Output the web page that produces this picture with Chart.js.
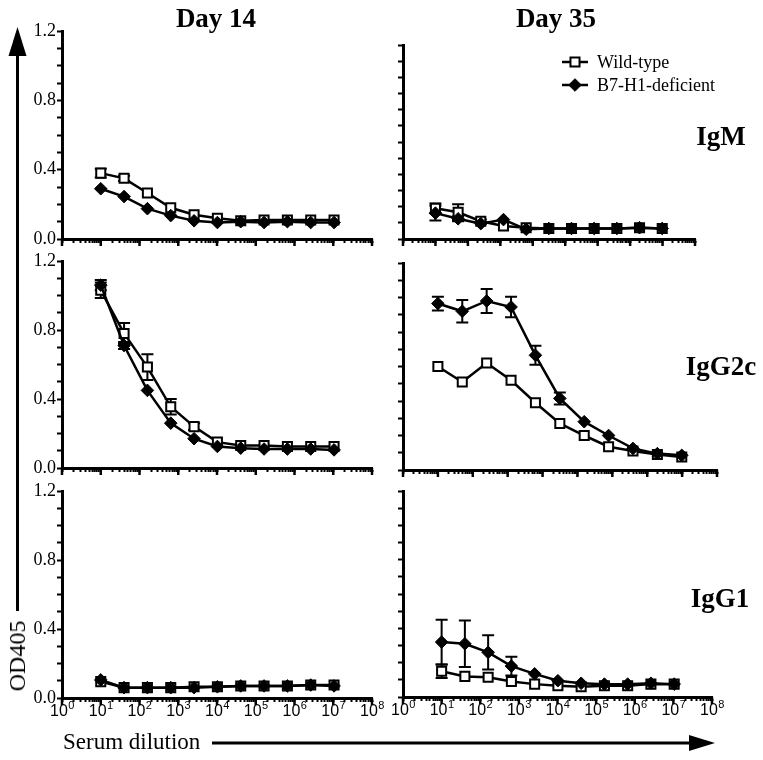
<!DOCTYPE html>
<html>
<head>
<meta charset="utf-8">
<script src="https://cdn.jsdelivr.net/npm/chart.js@4.4.1/dist/chart.umd.min.js"></script>
<style>
  body { margin: 0; background: #fff; }
  #wrap { position: relative; width: 763px; height: 760px; overflow: hidden; font-family: "Liberation Serif", "Times New Roman", serif; color: #000; }
  #wrap canvas { position: absolute; }
  .txt { position: absolute; white-space: nowrap; line-height: 1; }
</style>
</head>
<body>
<div id="wrap">
  <svg width="763" height="760" style="position:absolute;left:0;top:0">
    <line x1="17.5" y1="50" x2="17.5" y2="611" stroke="#000" stroke-width="3"/>
    <polygon points="17.5,27 8.5,56 26.5,56" fill="#000"/>
    <line x1="212" y1="743" x2="692" y2="743" stroke="#000" stroke-width="3"/>
    <polygon points="715,743 689,735 689,751" fill="#000"/>
  </svg>
</div>
<script>
// --- Data ---
const seriesNames = ['Wild-type', 'B7-H1-deficient'];
const dilution4 = [10, 40, 160, 640, 2560, 10240, 40960, 163840, 655360, 2621440, 10485760];
const dilution5 = [10, 50, 250, 1250, 6250, 31250, 156250, 781250, 3906250, 19531250, 97656250];
const decades8 = [1, 10, 100, 1e3, 1e4, 1e5, 1e6, 1e7, 1e8];
const decades9 = [1, 10, 100, 1e3, 1e4, 1e5, 1e6, 1e7, 1e8, 1e9];
const yLabeled = [0, 0.4, 0.8, 1.2];

// IgM
const igmD14WT     = [0.38, 0.35, 0.265, 0.18, 0.14, 0.12, 0.105, 0.11, 0.11, 0.11, 0.11];
const igmD14WTErr  = [0.025, 0.015, 0, 0, 0, 0, 0, 0, 0, 0, 0];
const igmD14KO     = [0.29, 0.245, 0.175, 0.135, 0.105, 0.095, 0.10, 0.095, 0.10, 0.095, 0.095];
const igmD14KOErr  = [0, 0, 0, 0, 0, 0, 0, 0, 0, 0, 0];
const igmD35WT     = [0.19, 0.165, 0.11, 0.08, 0.07, 0.065, 0.065, 0.065, 0.065, 0.07, 0.065];
const igmD35WTErr  = [0.03, 0.05, 0.01, 0, 0, 0, 0, 0, 0, 0, 0];
const igmD35KO     = [0.16, 0.125, 0.095, 0.12, 0.06, 0.065, 0.065, 0.065, 0.065, 0.07, 0.065];
const igmD35KOErr  = [0.045, 0.015, 0, 0, 0, 0, 0, 0, 0, 0, 0];

// IgG2c
const g2cD14WT     = [1.03, 0.78, 0.585, 0.355, 0.24, 0.15, 0.13, 0.13, 0.125, 0.125, 0.125];
const g2cD14WTErr  = [0.045, 0.06, 0.075, 0.045, 0.02, 0, 0, 0, 0, 0, 0];
const g2cD14KO     = [1.06, 0.71, 0.45, 0.26, 0.17, 0.125, 0.115, 0.11, 0.11, 0.11, 0.105];
const g2cD14KOErr  = [0.03, 0.02, 0, 0, 0, 0, 0, 0, 0, 0, 0];
const g2cD35WT     = [0.60, 0.51, 0.62, 0.52, 0.39, 0.27, 0.20, 0.135, 0.11, 0.09, 0.075];
const g2cD35WTErr  = [0, 0, 0, 0, 0, 0, 0, 0, 0, 0, 0];
const g2cD35KO     = [0.965, 0.92, 0.98, 0.945, 0.665, 0.415, 0.28, 0.20, 0.125, 0.095, 0.085];
const g2cD35KOErr  = [0.04, 0.065, 0.07, 0.06, 0.055, 0.035, 0, 0, 0, 0, 0];

// IgG1
const g1D14WT      = [0.095, 0.06, 0.06, 0.06, 0.065, 0.065, 0.07, 0.07, 0.07, 0.075, 0.075];
const g1D14WTErr   = [0, 0, 0, 0, 0, 0, 0, 0, 0, 0, 0];
const g1D14KO      = [0.105, 0.06, 0.06, 0.06, 0.06, 0.065, 0.07, 0.07, 0.07, 0.075, 0.07];
const g1D14KOErr   = [0, 0, 0, 0, 0, 0, 0, 0, 0, 0, 0];
const g1D35WT      = [0.15, 0.12, 0.115, 0.09, 0.075, 0.065, 0.06, 0.065, 0.065, 0.075, 0.075];
const g1D35WTErr   = [0.04, 0, 0, 0, 0, 0, 0, 0, 0, 0, 0];
const g1D35KO      = [0.32, 0.31, 0.26, 0.18, 0.135, 0.095, 0.08, 0.075, 0.075, 0.08, 0.075];
const g1D35KOErr   = [0.13, 0.135, 0.10, 0.055, 0, 0, 0, 0, 0, 0, 0];

// --- Panels (area = pixel box of each plot) ---
const panels = [
  { x: dilution4, decades: decades8, wt: igmD14WT, wtErr: igmD14WTErr, ko: igmD14KO, koErr: igmD14KOErr,
    area: { l: 62, r: 372, t: 31, b: 239 }, yLabels: true },
  { x: dilution5, decades: decades9, wt: igmD35WT, wtErr: igmD35WTErr, ko: igmD35KO, koErr: igmD35KOErr,
    area: { l: 403, r: 695, t: 45, b: 239 }, padR: 68, legend: true },
  { x: dilution4, decades: decades8, wt: g2cD14WT, wtErr: g2cD14WTErr, ko: g2cD14KO, koErr: g2cD14KOErr,
    area: { l: 62, r: 372, t: 261, b: 468 }, yLabels: true },
  { x: dilution5, decades: decades9, wt: g2cD35WT, wtErr: g2cD35WTErr, ko: g2cD35KO, koErr: g2cD35KOErr,
    area: { l: 403, r: 717, t: 263, b: 470 } },
  { x: dilution4, decades: decades8, wt: g1D14WT, wtErr: g1D14WTErr, ko: g1D14KO, koErr: g1D14KOErr,
    area: { l: 62, r: 372, t: 491, b: 698 }, yLabels: true, xLabels: true },
  { x: dilution4, decades: decades8, wt: g1D35WT, wtErr: g1D35WTErr, ko: g1D35KO, koErr: g1D35KOErr,
    area: { l: 403, r: 712, t: 491, b: 697 }, xLabels: true }
];

const wtStyle = { pointStyle: 'rect', radius: 6.4, fill: '#fff', borderWidth: 2 };
const koStyle = { pointStyle: 'rectRot', radius: 6.3, fill: '#000', borderWidth: 1 };

function logTicks(decades) {
  const out = [];
  for (let i = 0; i < decades.length - 1; i++) {
    for (let k = 1; k < 10; k++) out.push(decades[i] * k);
  }
  out.push(decades[decades.length - 1]);
  return out;
}

// error bars, long decade ticks, superscript labels, legend
const panelDeco = {
  id: 'panelDeco',
  beforeDatasetsDraw(chart) {
    const ctx = chart.ctx, ys = chart.scales.y;
    ctx.save();
    ctx.strokeStyle = '#000';
    ctx.lineWidth = 2;
    chart.data.datasets.forEach((ds, di) => {
      const meta = chart.getDatasetMeta(di);
      ds.errors.forEach((e, i) => {
        if (!e) return;
        const pt = meta.data[i], v = ds.data[i].y;
        const y1 = ys.getPixelForValue(v + e), y2 = ys.getPixelForValue(Math.max(v - e, 0));
        ctx.beginPath();
        ctx.moveTo(pt.x, y1); ctx.lineTo(pt.x, y2);
        ctx.moveTo(pt.x - 6, y1); ctx.lineTo(pt.x + 6, y1);
        ctx.moveTo(pt.x - 6, y2); ctx.lineTo(pt.x + 6, y2);
        ctx.stroke();
      });
    });
    ctx.restore();
  },
  afterDraw(chart) {
    const p = chart.config.options.panel;
    const ctx = chart.ctx, xs = chart.scales.x, area = chart.chartArea;
    ctx.save();
    ctx.strokeStyle = '#000';
    ctx.fillStyle = '#000';
    ctx.lineWidth = 2.5;
    p.decades.forEach(d => {
      const x = xs.getPixelForValue(d);
      ctx.beginPath(); ctx.moveTo(x, area.bottom); ctx.lineTo(x, area.bottom + 7); ctx.stroke();
    });
    if (p.xLabels) {
      ctx.textBaseline = 'alphabetic';
      p.decades.forEach(d => {
        const x = xs.getPixelForValue(d);
        const exp = String(Math.round(Math.log10(d)));
        ctx.font = '16px "Liberation Sans", Arial, sans-serif';
        const w1 = ctx.measureText('10').width;
        ctx.font = '11px "Liberation Sans", Arial, sans-serif';
        const w2 = ctx.measureText(exp).width;
        const x0 = x - (w1 + w2) / 2, base = area.bottom + 18;
        ctx.font = '16px "Liberation Sans", Arial, sans-serif';
        ctx.fillText('10', x0, base);
        ctx.font = '11px "Liberation Sans", Arial, sans-serif';
        ctx.fillText(exp, x0 + w1 + 0.5, base - 7);
      });
    }
    if (p.legend) {
      [[wtStyle, 62], [koStyle, 85]].forEach(([st, py]) => {
        const y = py - p.offY, x1 = 562 - p.offX, x2 = 588 - p.offX;
        ctx.lineWidth = 2.5;
        ctx.beginPath(); ctx.moveTo(x1, y); ctx.lineTo(x2, y); ctx.stroke();
        ctx.fillStyle = st.fill;
        ctx.lineWidth = st.borderWidth;
        Chart.helpers.drawPoint(ctx, { pointStyle: st.pointStyle, radius: st.radius, rotation: 0, borderWidth: st.borderWidth }, (x1 + x2) / 2, y);
      });
    }
    ctx.restore();
  }
};

function series(p, label, ys, errs, st) {
  return {
    label: label,
    data: p.x.map((x, i) => ({ x: x, y: ys[i] })),
    errors: errs,
    borderColor: '#000',
    borderWidth: 2.5,
    pointStyle: st.pointStyle,
    pointRadius: st.radius,
    pointBackgroundColor: st.fill,
    pointBorderColor: '#000',
    pointBorderWidth: st.borderWidth,
    clip: false
  };
}

const wrap = document.getElementById('wrap');
panels.forEach(p => {
  const a = p.area;
  const yW = 60, padT = 14, padR = p.padR || 12, xH = p.xLabels ? 34 : 16;
  const cv = document.createElement('canvas');
  cv.width = a.r - a.l + yW + padR;
  cv.height = a.b - a.t + padT + xH;
  p.offX = a.l - yW; p.offY = a.t - padT;
  cv.style.left = p.offX + 'px';
  cv.style.top = p.offY + 'px';
  wrap.appendChild(cv);

  new Chart(cv, {
    type: 'line',
    data: {
      datasets: [
        series(p, seriesNames[1], p.ko, p.koErr, koStyle),
        series(p, seriesNames[0], p.wt, p.wtErr, wtStyle)
      ]
    },
    options: {
      panel: p,
      responsive: false,
      animation: false,
      devicePixelRatio: 1,
      layout: { padding: { top: padT, right: padR, left: 0, bottom: 0 } },
      plugins: { legend: { display: false }, tooltip: { enabled: false } },
      scales: {
        x: {
          type: 'logarithmic',
          min: 1,
          max: p.decades[p.decades.length - 1],
          afterBuildTicks: s => { s.ticks = logTicks(p.decades).map(v => ({ value: v })); },
          afterFit: s => { s.height = xH; },
          ticks: { display: false },
          grid: { drawOnChartArea: false, drawTicks: true, tickLength: 4, tickWidth: 2, tickColor: '#000' },
          border: { display: true, color: '#000', width: 3 }
        },
        y: {
          min: 0,
          max: 1.2,
          afterFit: s => { s.width = yW; },
          ticks: {
            display: !!p.yLabels,
            stepSize: 0.1,
            autoSkip: false,
            padding: 1,
            color: '#000',
            font: { family: '"Liberation Serif", "Times New Roman", serif', size: 18 },
            callback: v => yLabeled.includes(Math.round(v * 10) / 10) ? v.toFixed(1) : ''
          },
          grid: { drawOnChartArea: false, drawTicks: true, tickLength: 5, tickWidth: 2, tickColor: '#000' },
          border: { display: true, color: '#000', width: 3 }
        }
      }
    },
    plugins: [panelDeco]
  });
});

// --- Texts ---
function addText(str, x, baseline, size, opts) {
  opts = opts || {};
  const d = document.createElement('div');
  d.className = 'txt';
  d.textContent = str;
  d.style.fontSize = size + 'px';
  if (opts.bold) d.style.fontWeight = 'bold';
  d.style.left = x + 'px';
  d.style.top = (baseline - 0.8375 * size) + 'px';
  if (opts.center) d.style.transform = 'translateX(-50%)';
  wrap.appendChild(d);
  return d;
}
addText('Day 14', 216, 28, 27, { bold: true, center: true });
addText('Day 35', 556, 28, 27, { bold: true, center: true });
addText('IgM', 721, 146, 27, { bold: true, center: true });
addText('IgG2c', 721, 376, 27, { bold: true, center: true });
addText('IgG1', 720, 608, 27, { bold: true, center: true });
addText(seriesNames[0], 597, 68, 18);
addText(seriesNames[1], 597, 91, 18);
addText('Serum dilution', 63, 749, 23);

const od = document.createElement('div');
od.className = 'txt';
od.textContent = 'OD405';
od.style.fontSize = '24px';
od.style.left = '17px';
od.style.top = '656px';
od.style.transform = 'translate(-50%, -50%) rotate(-90deg)';
wrap.appendChild(od);
</script>
</body>
</html>
